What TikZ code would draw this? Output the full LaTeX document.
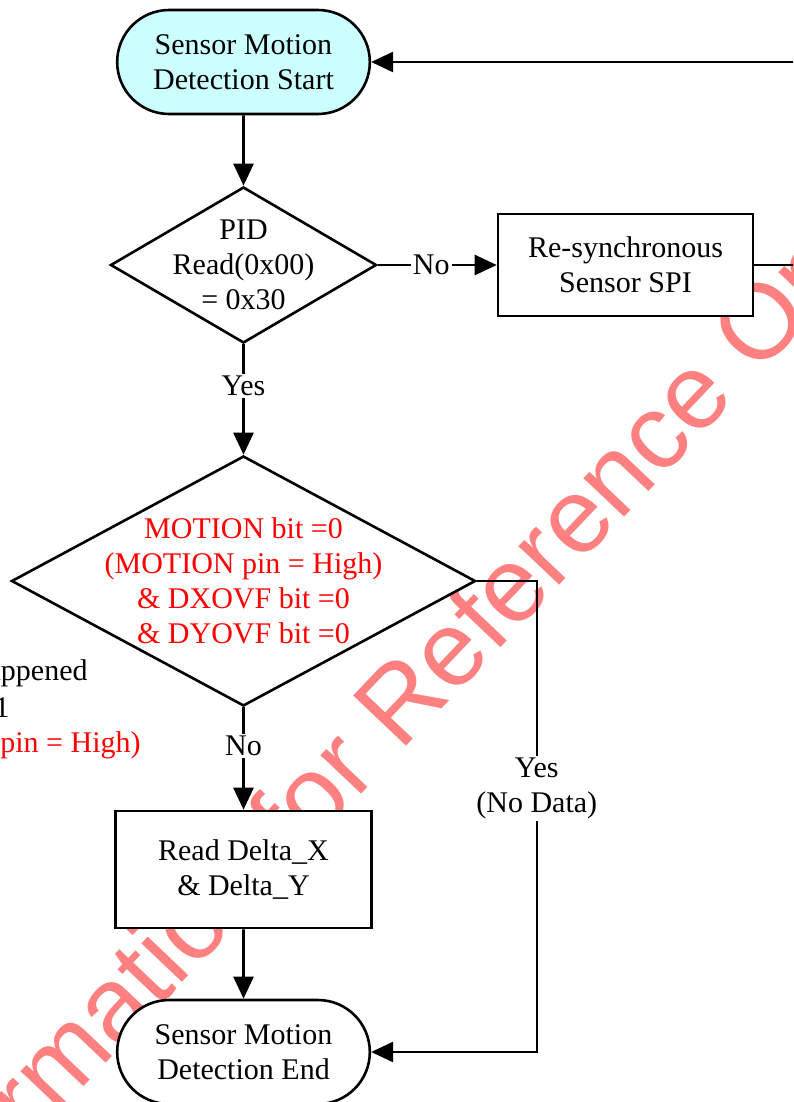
\documentclass[tikz,border=0pt]{standalone}
\usepackage{fontspec}
\setmainfont{Liberation Serif}
\newfontfamily\wmfont{Liberation Sans}
\usetikzlibrary{shapes.geometric, shapes.misc, arrows.meta, positioning}
\definecolor{startcyan}{RGB}{204,255,255}
\definecolor{wmred}{RGB}{255,128,128}

\begin{document}
\begin{tikzpicture}[
    x=0.5pt, y=-0.5pt,
    font=\fontsize{15}{17.5}\selectfont,
    term/.style={draw, line width=1.3pt, rounded rectangle, minimum height=52pt,
                 minimum width=133pt, align=center, fill=white},
    decision/.style={draw, line width=1.3pt, diamond, inner sep=-20pt, align=center,
                     fill=white},
    proc/.style={draw, line width=1.3pt, rectangle, minimum height=51pt,
                 minimum width=127.5pt, align=center, fill=white},
    arr/.style={-{Triangle[length=11pt, width=10pt]}, line width=1.3pt},
    elab/.style={fill=white, inner sep=1pt, align=center}
]
\useasboundingbox (0,0) rectangle (793,1102);
\clip (0,0) rectangle (793,1102);

% watermark
\node[wmred, font=\wmfont\fontsize{53}{53}\selectfont, rotate=46.5, anchor=base west,
      inner sep=0] (wm) at (-90,1270) {Information for Reference Only};

\node[term, fill=startcyan] (start) at (243.5,62) {Sensor Motion\\Detection Start};
\node[decision, aspect=1.7, minimum width=133pt, minimum height=78pt] (pid) at (243.5,265)
    {PID\\Read(0x00)\\= 0x30};
\node[proc] (sync) at (625.5,265) {Re-synchronous\\Sensor SPI};
\node[decision, aspect=1.86, minimum width=232pt, minimum height=125pt, text=red] (motion)
    at (243.5,581)
    {MOTION bit =0\\(MOTION pin = High)\\\& DXOVF bit =0\\\& DYOVF bit =0};
\node[proc, minimum height=58.5pt, minimum width=128pt] (delta) at (243.5,869.5)
    {Read Delta\_X\\\& Delta\_Y};
\node[term] (stop) at (243.5,1052) {Sensor Motion\\Detection End};

% cut-off text at the left edge
\node[anchor=east, inner sep=0] (lefta) at (88,673) {appened};
\node[anchor=east, inner sep=0] (leftb) at (10,708) {1};
\node[anchor=east, inner sep=0, text=red] (leftc) at (141,745) {pin = High)};

% main flow
\draw[arr] (start) -- (pid);
\draw[arr] (pid) -- node[elab, pos=0.45]{No} (sync);
\draw[arr] (sync.east) -- ++(80,0) |- (start.east);
\draw[arr] (pid) -- node[elab, pos=0.38]{Yes} (motion);
\draw[arr] (motion) -- node[elab, pos=0.38]{No} (delta);
\draw[arr] (delta) -- (stop);

% no data branch
\draw[arr] (motion.east) -- ++(60,0) |- node[elab, pos=0.22]{Yes\\(No Data)} (stop.east);

\end{tikzpicture}
\end{document}
